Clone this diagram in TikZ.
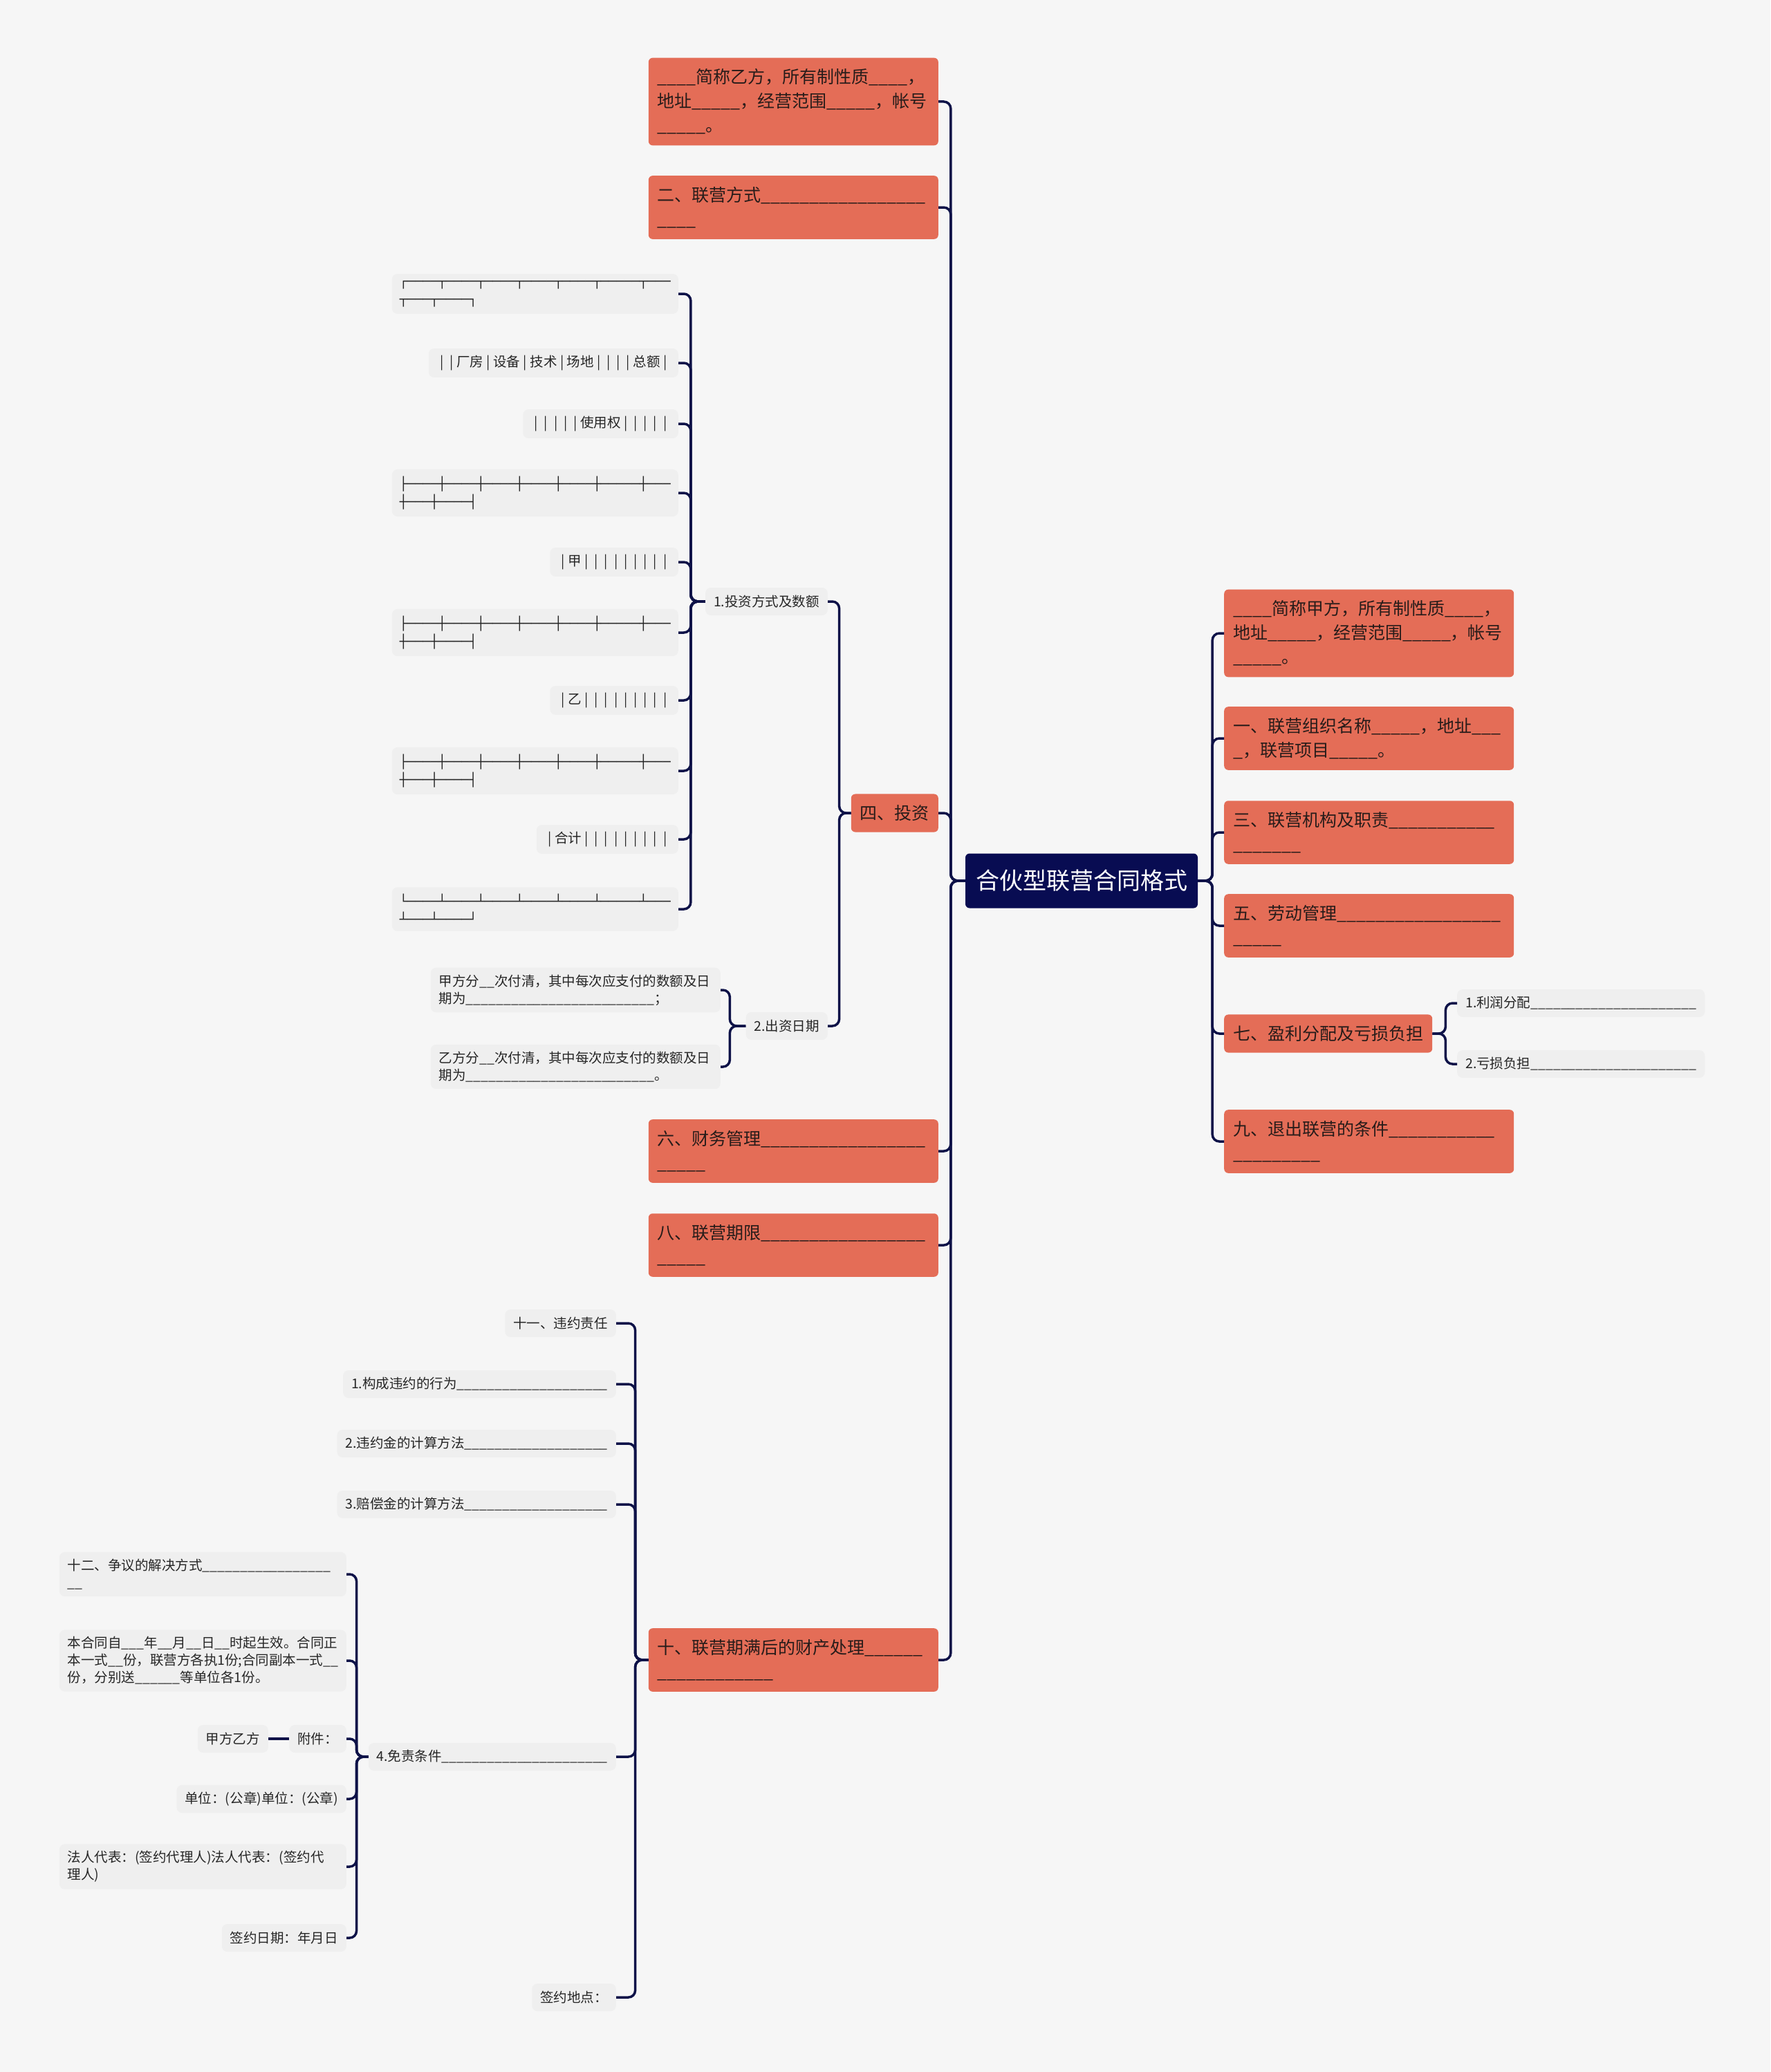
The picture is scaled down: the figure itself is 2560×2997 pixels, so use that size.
\documentclass[tikz,border=0pt]{standalone}
\usepackage{fontspec}
\setmainfont{Noto Sans CJK SC}
\newfontfamily\boxfont{DejaVu Sans Mono}
\definecolor{PaperGray}{RGB}{246,246,246}
\definecolor{LeafGray}{RGB}{239,239,239}
\definecolor{TopicRed}{RGB}{228,109,87}
\definecolor{RootNavy}{RGB}{8,12,82}
\definecolor{LinkNavy}{RGB}{14,18,72}
\definecolor{TopicText}{RGB}{40,28,26}
\newcommand\blank[1]{\foreach\nb in {1,...,#1}{\_}}
\newcommand\vb{\makebox[14.2pt]{|}}

\begin{document}
\begin{tikzpicture}[x=1pt, y=-1pt,
 root/.style={fill=RootNavy, text=white, rounded corners=6pt, inner sep=0pt,
   minimum width=336pt, minimum height=79pt, font=\fontsize{34}{40}\selectfont},
 topic/.style={fill=TopicRed, text=TopicText, rounded corners=6pt, align=left,
   inner xsep=13pt, inner ysep=16pt, font=\fontsize{25}{35}\selectfont},
 wide/.style={topic, text width=393pt},
 leaf/.style={fill=LeafGray, text=black!85, rounded corners=8pt, align=left,
   inner xsep=12pt, inner ysep=10pt, minimum height=40pt, font=\fontsize{19.5}{25}\selectfont},
 note/.style={leaf, text width=391pt},
 grid/.style={leaf, inner xsep=11pt, font=\boxfont\fontsize{18.6}{26}\selectfont},
 link/.style={draw=LinkNavy, line width=3.5pt, rounded corners=10pt}
]
\fill[PaperGray] (0,0) rectangle (2560,2997);

\node[root] (root) at (1564,1274) {合伙型联营合同格式};

% right side
\node[wide, anchor=west] (jia) at (1770,916) {\blank{4}简称甲方，所有制性质\blank{4}，\\地址\blank{5}，经营范围\blank{5}，帐号\\\blank{5}。};
\node[wide, anchor=west] (org) at (1770,1068) {一、联营组织名称\blank{5}，地址\blank{3}\\\blank{1}，联营项目\blank{5}。};
\node[wide, anchor=west] (duty) at (1770,1204) {三、联营机构及职责\blank{11}\\\blank{7}};
\node[wide, anchor=west] (labor) at (1770,1339) {五、劳动管理\blank{17}\\\blank{5}};
\node[topic, anchor=west] (profit) at (1770,1495) {七、盈利分配及亏损负担};
\node[wide, anchor=west] (quit) at (1770,1651) {九、退出联营的条件\blank{11}\\\blank{9}};
\node[leaf, anchor=west] (share) at (2107,1451) {1.利润分配\blank{22}};
\node[leaf, anchor=west] (loss) at (2107,1539) {2.亏损负担\blank{22}};

% left side
\node[wide, anchor=east] (yi) at (1357,147) {\blank{4}简称乙方，所有制性质\blank{4}，\\地址\blank{5}，经营范围\blank{5}，帐号\\\blank{5}。};
\node[wide, anchor=east] (mode) at (1357,300) {二、联营方式\blank{17}\\\blank{4}};
\node[topic, anchor=east] (invest) at (1357,1176) {四、投资};
\node[wide, anchor=east] (fin) at (1357,1665) {六、财务管理\blank{17}\\\blank{5}};
\node[wide, anchor=east] (term) at (1357,1801) {八、联营期限\blank{17}\\\blank{5}};
\node[wide, anchor=east] (assets) at (1357,2401) {十、联营期满后的财产处理\blank{6}\\\blank{12}};

% 四、投资
\node[leaf, anchor=east] (way) at (1197,870) {1.投资方式及数额};
\node[leaf, anchor=east] (when) at (1197,1484) {2.出资日期};
\node[grid, anchor=east] (g1) at (981,425) {┌────┬────┬────┬────┬────┬─────┬───\\┬───┬────┐};
\node[leaf, anchor=east] (g2) at (981,525) {\vb\vb{}厂房\vb{}设备\vb{}技术\vb{}场地\vb\vb\vb\vb{}总额\vb};
\node[leaf, anchor=east] (g3) at (981,613) {\vb\vb\vb\vb\vb{}使用权\vb\vb\vb\vb\vb};
\node[grid, anchor=east] (g4) at (981,713) {├────┼────┼────┼────┼────┼─────┼───\\┼───┼────┤};
\node[leaf, anchor=east] (g5) at (981,813) {\vb{}甲\vb\vb\vb\vb\vb\vb\vb\vb\vb};
\node[grid, anchor=east] (g6) at (981,915) {├────┼────┼────┼────┼────┼─────┼───\\┼───┼────┤};
\node[leaf, anchor=east] (g7) at (981,1013) {\vb{}乙\vb\vb\vb\vb\vb\vb\vb\vb\vb};
\node[grid, anchor=east] (g8) at (981,1115) {├────┼────┼────┼────┼────┼─────┼───\\┼───┼────┤};
\node[leaf, anchor=east] (g9) at (981,1214) {\vb{}合计\vb\vb\vb\vb\vb\vb\vb\vb\vb};
\node[grid, anchor=east] (g10) at (981,1315) {└────┴────┴────┴────┴────┴─────┴───\\┴───┴────┘};
\node[leaf, text width=395pt, anchor=east] (paya) at (1042,1432) {甲方分\blank{2}次付清，其中每次应支付的数额及日\\期为\blank{25}；};
\node[leaf, text width=395pt, anchor=east] (payb) at (1042,1543) {乙方分\blank{2}次付清，其中每次应支付的数额及日\\期为\blank{25}。};

% 十、联营期满后的财产处理
\node[leaf, anchor=east] (breach) at (891,1914) {十一、违约责任};
\node[leaf, anchor=east] (act) at (891,2002) {1.构成违约的行为\blank{20}};
\node[leaf, anchor=east] (penalty) at (891,2088) {2.违约金的计算方法\blank{19}};
\node[leaf, anchor=east] (comp) at (891,2176) {3.赔偿金的计算方法\blank{19}};
\node[leaf, anchor=east] (exempt) at (891,2541) {4.免责条件\blank{22}};
\node[leaf, anchor=east] (place) at (891,2889) {签约地点：};
\node[note, anchor=east] (dispute) at (501,2277) {十二、争议的解决方式\blank{17}\\\blank{2}};
\node[note, anchor=east] (valid) at (501,2402) {本合同自\blank{3}年\blank{2}月\blank{2}日\blank{2}时起生效。合同正\\本一式\blank{2}份，联营方各执1份;合同副本一式\blank{2}\\份，分别送\blank{6}等单位各1份。};
\node[leaf, anchor=east] (annex) at (501,2515) {附件：};
\node[leaf, anchor=east] (ab) at (388,2515) {甲方乙方};
\node[leaf, anchor=east] (seal) at (501,2602) {单位：(公章)单位：(公章)};
\node[note, anchor=east] (rep) at (501,2700) {法人代表：(签约代理人)法人代表：(签约代\\理人)};
\node[leaf, anchor=east] (date) at (501,2803) {签约日期：年月日};

% connectors
\draw[link] (root.east) -- ++(21,0) |- (jia.west);
\draw[link] (root.east) -- ++(21,0) |- (org.west);
\draw[link] (root.east) -- ++(21,0) |- (duty.west);
\draw[link] (root.east) -- ++(21,0) |- (labor.west);
\draw[link] (root.east) -- ++(21,0) |- (profit.west);
\draw[link] (root.east) -- ++(21,0) |- (quit.west);
\draw[link] (profit.east) -- ++(19,0) |- (share.west);
\draw[link] (profit.east) -- ++(19,0) |- (loss.west);

\draw[link] (root.west) -- ++(-21,0) |- (yi.east);
\draw[link] (root.west) -- ++(-21,0) |- (mode.east);
\draw[link] (root.west) -- ++(-21,0) |- (invest.east);
\draw[link] (root.west) -- ++(-21,0) |- (fin.east);
\draw[link] (root.west) -- ++(-21,0) |- (term.east);
\draw[link] (root.west) -- ++(-21,0) |- (assets.east);

\draw[link] (invest.west) -- ++(-17,0) |- (way.east);
\draw[link] (invest.west) -- ++(-17,0) |- (when.east);
\draw[link] (way.west) -- ++(-21,0) |- (g1.east);
\draw[link] (way.west) -- ++(-21,0) |- (g2.east);
\draw[link] (way.west) -- ++(-21,0) |- (g3.east);
\draw[link] (way.west) -- ++(-21,0) |- (g4.east);
\draw[link] (way.west) -- ++(-21,0) |- (g5.east);
\draw[link] (way.west) -- ++(-21,0) |- (g6.east);
\draw[link] (way.west) -- ++(-21,0) |- (g7.east);
\draw[link] (way.west) -- ++(-21,0) |- (g8.east);
\draw[link] (way.west) -- ++(-21,0) |- (g9.east);
\draw[link] (way.west) -- ++(-21,0) |- (g10.east);
\draw[link] (when.west) -- ++(-23,0) |- (paya.east);
\draw[link] (when.west) -- ++(-23,0) |- (payb.east);

\draw[link] (assets.west) -- ++(-19,0) |- (breach.east);
\draw[link] (assets.west) -- ++(-19,0) |- (act.east);
\draw[link] (assets.west) -- ++(-19,0) |- (penalty.east);
\draw[link] (assets.west) -- ++(-19,0) |- (comp.east);
\draw[link] (assets.west) -- ++(-19,0) |- (exempt.east);
\draw[link] (assets.west) -- ++(-19,0) |- (place.east);
\draw[link] (exempt.west) -- ++(-17,0) |- (dispute.east);
\draw[link] (exempt.west) -- ++(-17,0) |- (valid.east);
\draw[link] (exempt.west) -- ++(-17,0) |- (annex.east);
\draw[link] (exempt.west) -- ++(-17,0) |- (seal.east);
\draw[link] (exempt.west) -- ++(-17,0) |- (rep.east);
\draw[link] (exempt.west) -- ++(-17,0) |- (date.east);
\draw[link] (annex.west) -- (ab.east);
\end{tikzpicture}
\end{document}
